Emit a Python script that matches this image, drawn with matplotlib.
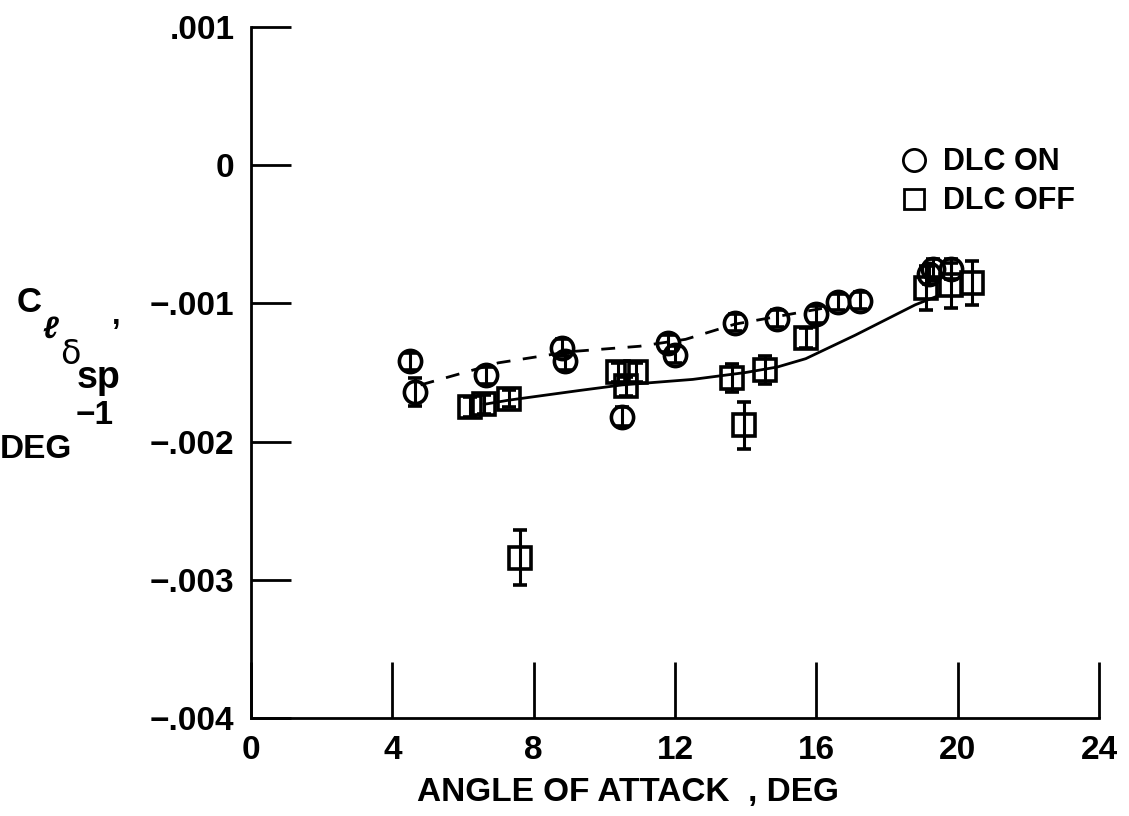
import numpy as np
import matplotlib
matplotlib.use("Agg")
import matplotlib.pyplot as plt
from matplotlib.lines import Line2D

plt.rcParams['font.family'] = ['Liberation Sans', 'DejaVu Sans']
plt.rcParams['font.weight'] = 'bold'

# DLC ON (circles)
on_x = [4.5, 4.65, 6.65, 8.8, 8.9, 10.5, 11.8, 12.0, 13.7, 14.9, 16.0, 16.6, 17.25, 19.2, 19.3, 19.8]
on_y = [-0.00142, -0.00164, -0.00152, -0.00132, -0.00142, -0.00182, -0.00129, -0.00137,
        -0.00114, -0.00111, -0.00108, -0.00099, -0.00098, -0.00079, -0.00075, -0.00075]
on_err = [0.00006, 0.0001, 0.00006, 0.00006, 0.00006, 0.00007, 0.00006, 0.00006,
          0.00006, 0.00006, 0.00006, 0.00006, 0.00006, 0.00007, 0.00007, 0.00007]

# DLC OFF (squares)
off_x = [6.2, 6.6, 7.3, 7.6, 10.4, 10.9, 10.6, 13.6, 13.95, 14.55, 15.7, 19.1, 19.8, 20.4]
off_y = [-0.00175, -0.00173, -0.00169, -0.00284, -0.00150, -0.00150, -0.00160, -0.00154,
         -0.00188, -0.00148, -0.00125, -0.00089, -0.00087, -0.00085]
off_err = [0.00007, 0.00007, 0.00006, 0.0002, 0.00007, 0.00007, 0.00007, 0.0001,
           0.00017, 0.0001, 0.00007, 0.00016, 0.00016, 0.00016]

# faired curves
fair_on_x = [4.8, 7.0, 9.0, 11.0, 12.3, 13.7, 15.0, 16.3]
fair_on_y = [-0.00159, -0.00143, -0.00135, -0.00131, -0.00126, -0.00115, -0.00109, -0.00103]
fair_off_x = [6.6, 7.3, 9.3, 10.5, 12.5, 14.0, 14.9, 15.7, 17.1, 18.8, 19.5]
fair_off_y = [-0.00173, -0.00170, -0.00163, -0.00159, -0.00155, -0.00150, -0.00146, -0.00140,
              -0.00123, -0.00101, -0.00094]

x_ticks = [0, 4, 8, 12, 16, 20, 24]
y_ticks = [-0.004, -0.003, -0.002, -0.001, 0.0, 0.001]
y_ticklabels = ['\u2212.004', '\u2212.003', '\u2212.002', '\u2212.001', '0', '.001']

W, H = 1129, 816
fig = plt.figure(figsize=(W / 100, H / 100), dpi=100)
ax = fig.add_axes([251 / W, 1 - 718 / H, (1099 - 251) / W, (718 - 27) / H])

ax.plot(fair_on_x, fair_on_y, color='black', lw=2, ls=(0, (5, 4.5)))
ax.plot(fair_off_x, fair_off_y, color='black', lw=2)

ax.errorbar(on_x, on_y, yerr=on_err, fmt='o', ms=16, mfc='none', mec='black', mew=2.6,
            ecolor='black', elinewidth=2.2, capsize=5, capthick=2.4)
ax.errorbar(off_x, off_y, yerr=off_err, fmt='s', ms=16, mfc='none', mec='black', mew=2.6,
            ecolor='black', elinewidth=2.2, capsize=5, capthick=2.4)

ax.set_xlim(0, 24)
ax.set_ylim(-0.004, 0.001)
ax.set_xticks(x_ticks)
ax.set_xticklabels([str(t) for t in x_ticks])
ax.set_yticks(y_ticks)
ax.set_yticklabels(y_ticklabels)
ax.tick_params(axis='x', direction='in', length=40, width=2, pad=12, labelsize=24)
ax.tick_params(axis='y', direction='in', length=29, width=2, pad=12, labelsize=24)
for lab in ax.get_xticklabels() + ax.get_yticklabels():
    lab.set_fontweight('bold')
ax.spines['top'].set_visible(False)
ax.spines['right'].set_visible(False)
ax.spines['left'].set_linewidth(2)
ax.spines['bottom'].set_linewidth(2)

def px(x, y):
    return x / W, 1 - y / H

# axis titles
fig.text(*px(628, 792), 'ANGLE OF ATTACK  , DEG', ha='center', va='center', fontsize=24, fontweight='bold')
fig.text(*px(17, 302), 'C', ha='left', va='center', fontsize=25, fontweight='bold')
fig.text(*px(42, 330), '\u2113', ha='left', va='center', fontsize=22, fontweight='bold', style='italic')
fig.text(*px(60, 354), '\u03b4', ha='left', va='center', fontsize=24, fontweight='normal',
         family=['DejaVu Sans'])
fig.text(*px(77, 378), 'sp', ha='left', va='center', fontsize=27, fontweight='bold')
fig.text(*px(112, 316), ',', ha='left', va='center', fontsize=22, fontweight='bold')
fig.text(*px(76, 416), '\u22121', ha='left', va='center', fontsize=24, fontweight='bold')
fig.text(*px(0, 449), 'DEG', ha='left', va='center', fontsize=24, fontweight='bold')

handles = [Line2D([], [], marker='o', ls='none', ms=16, mfc='none', mec='black', mew=2),
           Line2D([], [], marker='s', ls='none', ms=15, mfc='none', mec='black', mew=2)]
fig.legend(handles, ['DLC ON', 'DLC OFF'], loc='upper left', bbox_to_anchor=px(886, 135),
           frameon=False, handletextpad=0.45, labelspacing=0.3,
           handlelength=1.0, borderaxespad=0, prop={'weight': 'bold', 'size': 22})

fig.savefig('out.png', dpi=100)
